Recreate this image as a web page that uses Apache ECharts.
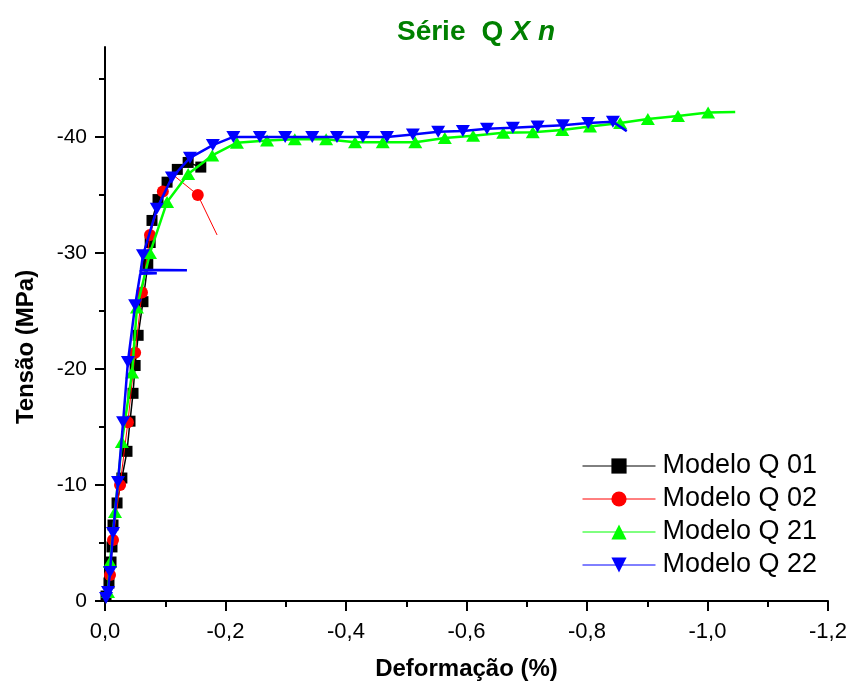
<!DOCTYPE html>
<html>
<head>
<meta charset="utf-8">
<script src="https://cdn.jsdelivr.net/npm/echarts@6/dist/echarts.min.js"></script>
<style>
  html, body { margin: 0; padding: 0; background: #fff; }
  #chart { width: 850px; height: 686px; }
</style>
</head>
<body>
<div id="chart"></div>
<script>
// Stress–strain curves, Série Q (strain in %, stress in MPa; compression negative)
const seriesNames = ['Modelo Q 01', 'Modelo Q 02', 'Modelo Q 21', 'Modelo Q 22'];

const q01Strain = [0, -0.0017, -0.0066, -0.010, -0.0116, -0.0133, -0.020, -0.028, -0.0365, -0.0415, -0.0465, -0.050, -0.055, -0.063, -0.071, -0.075, -0.078, -0.088, -0.103, -0.120, -0.138, -0.159];
const q01Stress = [0, -0.43, -1.55, -3.36, -4.66, -6.55, -8.45, -10.6, -12.9, -15.5, -17.9, -20.3, -22.9, -25.8, -29.0, -30.9, -32.8, -34.6, -36.1, -37.2, -37.8, -37.4];
const q01Plain = [0];

const q02Strain = [0, -0.0083, -0.0133, -0.025, -0.038, -0.050, -0.0614, -0.0747, -0.096, -0.116, -0.154, -0.186];
const q02Stress = [0, -2.24, -5.26, -10.0, -15.4, -21.4, -26.6, -31.55, -35.3, -36.6, -35.0, -31.55];
const q02Plain = [0, 9, 11];

const q21Strain = [0, -0.005, -0.0083, -0.0166, -0.028, -0.045, -0.053, -0.0747, -0.103, -0.138, -0.178, -0.219, -0.269, -0.315, -0.367, -0.415, -0.461, -0.515, -0.564, -0.611, -0.661, -0.710, -0.759, -0.805, -0.855, -0.901, -0.951, -1.001, -1.046];
const q21Stress = [0, -0.78, -3.36, -7.67, -13.7, -19.7, -25.3, -30.0, -34.4, -36.8, -38.4, -39.5, -39.7, -39.8, -39.8, -39.55, -39.55, -39.55, -39.9, -40.1, -40.35, -40.4, -40.6, -40.9, -41.2, -41.55, -41.8, -42.1, -42.15];
const q21Plain = [0, 28];

const q22Strain = [0, -0.0017, -0.005, -0.0083, -0.0133, -0.0216, -0.030, -0.038, -0.050, -0.0585, -0.086, -0.059, -0.059, -0.136, -0.0595, -0.063, -0.086, -0.111, -0.141, -0.179, -0.213, -0.257, -0.299, -0.344, -0.385, -0.428, -0.468, -0.511, -0.553, -0.594, -0.634, -0.677, -0.718, -0.760, -0.802, -0.843, -0.866];
const q22Stress = [0, -0.26, -0.78, -2.5, -5.86, -10.26, -15.4, -20.6, -25.5, -28.2, -28.25, -28.3, -28.5, -28.5, -28.55, -29.8, -33.8, -36.5, -38.2, -39.3, -40.0, -40.0, -40.0, -40.0, -40.0, -40.0, -40.0, -40.2, -40.45, -40.5, -40.7, -40.8, -40.9, -41.0, -41.2, -41.3, -40.5];
const q22Plain = [0, 9, 10, 11, 12, 13, 14, 36];

const yMajorTicks = [0, -10, -20, -30, -40];
const yMinorTicks = [-5, -15, -25, -35, -45];

const FONT = "'Liberation Sans', Arial, sans-serif";

// pair strain/stress; points listed in "plain" are drawn as line only
function buildData(strain, stress, plain) {
  return strain.map((x, i) => plain.includes(i)
    ? { value: [x, stress[i]], symbol: 'none' }
    : [x, stress[i]]);
}

const downTriangle = 'path://M0,0 L14,0 L7,12 Z';

const chart = echarts.init(document.getElementById('chart'), null, { renderer: 'canvas' });

const axisLineStyle = { color: '#000', width: 2 };
const titleBase = { fontFamily: FONT, fontWeight: 'bold', fontSize: 28, color: '#008000' };

chart.setOption({
  animation: false,
  backgroundColor: '#fff',
  title: {
    text: '{a|Série}{g|}{a|Q}{h|}{b|X}{h|}{b|n}',
    left: 471,
    textAlign: 'center',
    top: 13,
    textStyle: {
      rich: {
        a: titleBase,
        b: Object.assign({}, titleBase, { fontStyle: 'italic' }),
        g: { width: 16 },
        h: { width: 8 }
      }
    }
  },
  grid: { left: 105, right: 22, top: 47, bottom: 85, containLabel: false },
  legend: {
    orient: 'vertical',
    left: 582,
    top: 452,
    padding: 0,
    itemWidth: 73,
    itemHeight: 19,
    itemGap: 5,
    lineStyle: { width: 1 },
    textStyle: { fontFamily: FONT, fontSize: 27, color: '#000', lineHeight: 28, padding: [0, 0, 0, 2] },
    data: seriesNames
  },
  xAxis: {
    type: 'value',
    min: -1.2,
    max: 0,
    interval: 0.2,
    inverse: true,
    name: 'Deformação (%)',
    nameLocation: 'middle',
    nameGap: 56,
    nameTextStyle: { fontFamily: FONT, fontWeight: 'bold', fontSize: 24, color: '#000' },
    axisLine: { onZero: false, lineStyle: axisLineStyle },
    axisTick: { inside: false, length: 10, lineStyle: { color: '#000', width: 2 } },
    minorTick: { show: true, splitNumber: 2, length: 6, lineStyle: { color: '#000', width: 2 } },
    splitLine: { show: false },
    axisLabel: {
      margin: 20,
      fontFamily: FONT,
      fontSize: 22,
      color: '#000',
      formatter: v => v.toFixed(1).replace('-0.0', '0.0').replace('.', ',')
    }
  },
  yAxis: [
    {
      type: 'value',
      min: -47.75,
      max: 0,
      inverse: true,
      position: 'left',
      name: 'Tensão (MPa)',
      nameLocation: 'middle',
      nameGap: 67,
      nameTextStyle: { fontFamily: FONT, fontWeight: 'bold', fontSize: 24, color: '#000', padding: [0, 46, 0, 0] },
      axisLine: { onZero: false, lineStyle: axisLineStyle },
      axisTick: { inside: false, length: 10, customValues: yMajorTicks, lineStyle: { color: '#000', width: 2 } },
      splitLine: { show: false },
      axisLabel: {
        margin: 18,
        customValues: yMajorTicks,
        fontFamily: FONT,
        fontSize: 21,
        color: '#000',
        formatter: v => String(Math.round(v))
      }
    },
    {
      type: 'value',
      min: -47.75,
      max: 0,
      inverse: true,
      position: 'left',
      offset: 0,
      axisLine: { show: false },
      axisTick: { inside: false, length: 6, customValues: yMinorTicks, lineStyle: { color: '#000', width: 2 } },
      splitLine: { show: false },
      axisLabel: { show: false }
    }
  ],
  series: [
    {
      name: seriesNames[0],
      type: 'line',
      data: buildData(q01Strain, q01Stress, q01Plain),
      symbol: 'rect',
      symbolSize: 11,
      color: '#000000',
      lineStyle: { color: '#000000', width: 1.5 },
      itemStyle: { color: '#000000' },
      z: 2
    },
    {
      name: seriesNames[1],
      type: 'line',
      data: buildData(q02Strain, q02Stress, q02Plain),
      symbol: 'circle',
      symbolSize: 12,
      color: '#ff0000',
      lineStyle: { color: '#ff0000', width: 1 },
      itemStyle: { color: '#ff0000' },
      z: 3
    },
    {
      name: seriesNames[2],
      type: 'line',
      data: buildData(q21Strain, q21Stress, q21Plain),
      symbol: 'triangle',
      symbolSize: [14, 12],
      color: '#00ff00',
      lineStyle: { color: '#00ff00', width: 2.5 },
      itemStyle: { color: '#00ff00' },
      z: 4
    },
    {
      name: seriesNames[3],
      type: 'line',
      data: buildData(q22Strain, q22Stress, q22Plain),
      symbol: downTriangle,
      symbolSize: [14, 12],
      color: '#0000ff',
      lineStyle: { color: '#0000ff', width: 2.5 },
      itemStyle: { color: '#0000ff' },
      z: 5
    }
  ]
});
</script>
</body>
</html>
